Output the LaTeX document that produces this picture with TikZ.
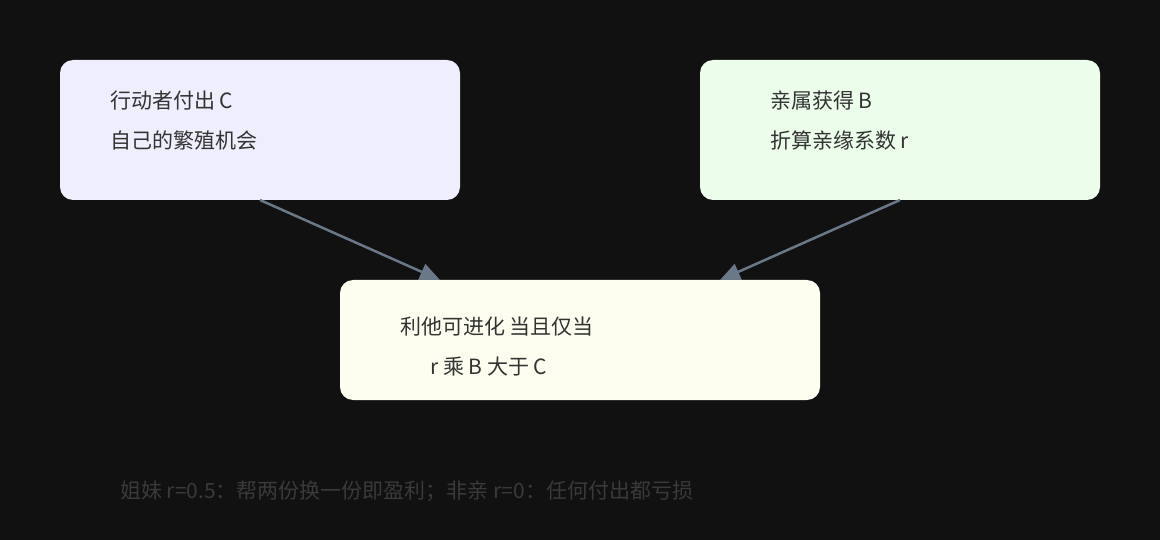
\documentclass[tikz,border=0pt]{standalone}
\usepackage{fontspec}
\setmainfont{Noto Sans CJK SC}
\usetikzlibrary{arrows.meta}
\definecolor{bg}{HTML}{111111}
\definecolor{fa}{HTML}{EEEEFD}
\definecolor{fb}{HTML}{ECFDEC}
\definecolor{fc}{HTML}{FEFEF0}
\definecolor{ln}{HTML}{6A7888}
\definecolor{tx}{HTML}{333333}
\definecolor{note}{HTML}{3A3A3A}
\begin{document}
\begin{tikzpicture}[x=1pt,y=-1pt,
 box/.style={draw=none,rounded corners=13pt},
 lbl/.style={anchor=west,text=tx,font=\fontsize{21}{24}\selectfont,inner sep=0},
 arr/.style={draw=ln,line width=2.5pt,-{Triangle[length=20pt,width=17pt]}}]
\fill[bg] (0,0) rectangle (1160,540);
\useasboundingbox (0,0) rectangle (1160,540);
\fill[box,fa] (60,60) rectangle (460,200);
\fill[box,fb] (700,60) rectangle (1100,200);
\fill[box,fc] (340,280) rectangle (820,400);
\node[lbl] (a1) at (110,101) {行动者付出 C};
\node[lbl] (a2) at (110,141) {自己的繁殖机会};
\node[lbl] (b1) at (770,101) {亲属获得 B};
\node[lbl] (b2) at (770,141) {折算亲缘系数 r};
\node[lbl] (c1) at (400,327) {利他可进化 当且仅当};
\node[lbl] (c2) at (430,367) {r 乘 B 大于 C};
\coordinate (as) at (260,200); \coordinate (ae) at (440,280);
\coordinate (bs) at (900,200); \coordinate (be) at (720,280);
\draw[arr] (as) -- (ae);
\draw[arr] (bs) -- (be);
\node[lbl,text=note] (n) at (120,491) {姐妹 r=0.5：帮两份换一份即盈利；非亲 r=0：任何付出都亏损};
\end{tikzpicture}
\end{document}
